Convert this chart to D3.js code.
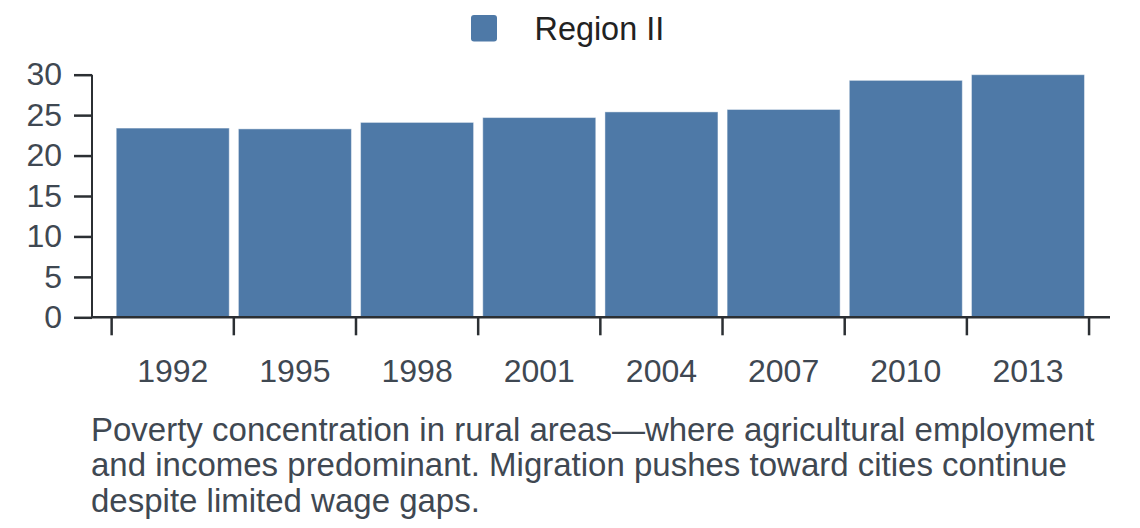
<!DOCTYPE html>
<html>
<head>
<meta charset="utf-8">
<script src="https://cdn.jsdelivr.net/npm/d3@7"></script>
<style>
    body { margin: 0; background: #fff; }
    svg { display: block; font-family: "Liberation Sans", Arial, sans-serif; }
</style>
</head>
<body>
<div id="chart"></div>
<script>
// chart data
const years = ['1992', '1995', '1998', '2001', '2004', '2007', '2010', '2013'];
const values = [23.4, 23.3, 24.1, 24.7, 25.4, 25.7, 29.3, 30.0];
const yTicks = [0, 5, 10, 15, 20, 25, 30];
const seriesName = 'Region II';
const captionLines = [
    'Poverty concentration in rural areas\u2014where agricultural employment',
    'and incomes predominant. Migration pushes toward cities continue',
    'despite limited wage gaps.'
];

const w = 1140,
    h = 528,
    barColor = '#4e79a7',
    textColor = '#3f4852',
    axisColor = '#2b2f33',
    tickLen = 18;

const plot = { left: 92, right: 1110, top: 74.7, bottom: 317.3 };

const svg = d3.select('#chart')
    .append('svg')
    .attr('width', w)
    .attr('height', h);

const xScale = d3.scaleBand()
    .domain(years)
    .range([111.7, 1089])
    .paddingInner(0.075)
    .paddingOuter(0.037);

const yScale = d3.scaleLinear()
    .domain([0, 30])
    .range([plot.bottom, plot.top]);

// bars
svg.selectAll('rect.bar')
    .data(values)
    .enter()
    .append('rect')
    .attr('class', 'bar')
    .attr('x', (d, i) => xScale(years[i]))
    .attr('y', d => yScale(d))
    .attr('width', xScale.bandwidth())
    .attr('height', d => yScale(0) - yScale(d))
    .attr('fill', barColor)
    .attr('stroke', '#ffffff')
    .attr('stroke-opacity', 0.45)
    .attr('stroke-width', 1);

// y axis
const yAxis = svg.append('g')
    .attr('transform', 'translate(' + plot.left + ',0)')
    .call(d3.axisLeft(yScale).tickValues(yTicks).tickSize(tickLen).tickPadding(12));
yAxis.select('.domain').attr('d', 'M0,' + yScale(30) + 'V' + yScale(0)).attr('stroke', axisColor).attr('stroke-width', 2);
yAxis.selectAll('.tick line').attr('stroke', axisColor).attr('stroke-width', 2.5);
yAxis.selectAll('.tick text')
    .attr('fill', textColor)
    .style('font-size', '32px')
    .style('font-family', '"Liberation Sans", Arial, sans-serif');

// x axis: labels centered in bands, tick lines on band edges
const xAxis = svg.append('g')
    .attr('transform', 'translate(0,' + plot.bottom + ')')
    .call(d3.axisBottom(xScale).tickSize(0).tickPadding(41.7));
xAxis.select('.domain').attr('d', 'M' + plot.left + ',0H' + plot.right).attr('stroke', axisColor).attr('stroke-width', 2.5);
xAxis.selectAll('.tick text')
    .attr('fill', textColor)
    .style('font-size', '32px')
    .style('font-family', '"Liberation Sans", Arial, sans-serif');

const step = xScale.step();
const edges = years.map(y => xScale(y) - step * xScale.paddingInner() / 2);
edges.push(edges[edges.length - 1] + step);
xAxis.selectAll('line.edge')
    .data(edges)
    .enter()
    .append('line')
    .attr('class', 'edge')
    .attr('x1', d => d)
    .attr('x2', d => d)
    .attr('y1', 0)
    .attr('y2', tickLen)
    .attr('stroke', axisColor)
    .attr('stroke-width', 2.5);

// legend
const legend = svg.append('g').attr('transform', 'translate(471,15)');
legend.append('rect')
    .attr('width', 26)
    .attr('height', 26.5)
    .attr('rx', 3)
    .attr('fill', barColor);
legend.append('text')
    .attr('x', 63.5)
    .attr('y', 25)
    .attr('fill', '#222')
    .style('font-size', '32.4px')
    .text(seriesName);

// caption
svg.append('g')
    .selectAll('text')
    .data(captionLines)
    .enter()
    .append('text')
    .attr('x', 91)
    .attr('y', (d, i) => 441 + i * 35.3)
    .attr('fill', textColor)
    .style('font-size', '33px')
    .text(d => d);
</script>
</body>
</html>
